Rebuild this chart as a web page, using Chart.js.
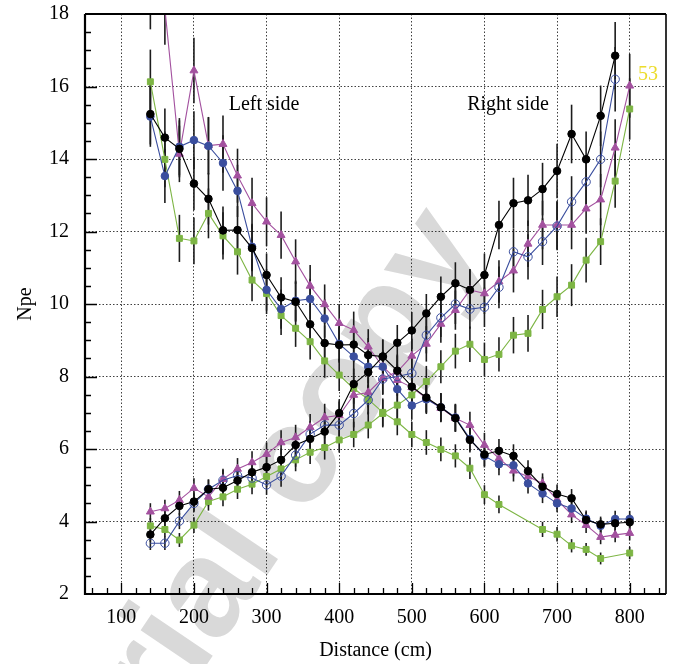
<!DOCTYPE html>
<html>
<head>
<meta charset="utf-8">
<script src="https://cdn.jsdelivr.net/npm/chart.js@4.4.1/dist/chart.umd.min.js"></script>
<style>
  html, body { margin: 0; padding: 0; background: #fff; }
</style>
</head>
<body>
<canvas id="npeChart" width="675" height="664"></canvas>
<script>
// distance along the bar (cm), one entry per measurement
const distance = [140, 160, 180, 200, 220, 240, 260, 280, 300, 320, 340, 360, 380, 400, 420, 440, 460,
                  480, 500, 520, 540, 560, 580, 600, 620, 640, 660, 680, 700, 720, 740, 760, 780, 800];

// left side readout (falls with distance)
const blackLeft  = [15.24, 14.59, 14.28, 13.32, 12.90, 12.03, 12.04, 11.54, 10.80, 10.18, 10.06, 9.44, 8.92, 8.87, 8.88, 8.59, 8.55,
                    8.16, 7.72, 7.42, 7.15, 6.85, 6.25, 5.85, 5.95, 5.81, 5.39, 4.96, 4.76, 4.64, 4.04, 3.92, 3.95, 3.98];
const blueLeft   = [15.17, 13.53, 14.34, 14.52, 14.36, 13.89, 13.12, 11.58, 10.39, 9.86, 10.09, 10.14, 9.60, 8.90, 8.55, 8.27, 8.27,
                    7.65, 7.20, 7.37, 7.15, 6.87, 6.28, 5.81, 5.58, 5.55, 5.05, 4.77, 4.50, 4.36, 4.08, 3.88, 4.07, 4.07];
const purpleLeft = [18.60, 18.15, 14.14, 16.44, 14.37, 14.41, 13.54, 12.78, 12.27, 11.90, 11.17, 10.50, 9.99, 9.47, 9.28, 8.82, 8.27,
                    7.90, 7.70, 7.40, 7.13, 6.85, 6.66, 6.11, 5.74, 5.40, 5.24, 5.05, 4.60, 4.19, 3.90, 3.57, 3.63, 3.68];
const greenLeft  = [16.13, 13.99, 11.81, 11.74, 12.50, 11.88, 11.44, 10.66, 10.29, 9.68, 9.33, 8.96, 8.43, 8.04, 7.67, 7.37, 7.01,
                    6.75, 6.40, 6.18, 5.99, 5.81, 5.47, 4.74, 4.47, null, null, 3.78, 3.65, 3.33, 3.23, 2.98, null, 3.13];

// right side readout (rises with distance)
const blackRight  = [3.64, 4.09, 4.43, 4.55, 4.89, 4.93, 5.13, 5.36, 5.50, 5.70, 6.11, 6.28, 6.48, 6.99, 7.79, 8.12, 8.55,
                     8.93, 9.27, 9.74, 10.20, 10.57, 10.39, 10.80, 12.18, 12.78, 12.86, 13.17, 13.67, 14.69, 13.99, 15.19, 16.85, null];
const blueRight   = [3.40, 3.40, 4.01, 4.50, 4.89, 5.14, 5.27, 5.20, 5.01, 5.25, 5.83, 6.41, 6.66, 6.66, 6.98, 7.35, 7.93,
                     8.00, 8.09, 9.14, 9.62, 10.00, 9.86, 9.91, 10.46, 11.44, 11.30, 11.72, 12.15, 12.82, 13.37, 13.99, 16.20, null];
const purpleRight = [4.27, 4.36, 4.59, 4.92, 4.68, 5.17, 5.45, 5.63, 5.86, 6.18, 6.32, 6.60, 6.87, 6.93, 7.49, 7.56, 7.95,
                     8.13, 8.57, 8.90, 9.45, 9.83, 10.39, 10.29, 10.62, 10.92, 11.66, 12.18, 12.18, 12.18, 12.63, 12.88, 14.31, 16.02];
const greenRight  = [3.88, 3.78, 3.49, 3.90, 4.55, 4.68, 4.89, 5.03, 5.24, 5.45, 5.70, 5.91, 6.04, 6.25, 6.40, 6.66, 6.98,
                     7.21, 7.49, 7.86, 8.27, 8.70, 8.89, 8.47, 8.61, 9.14, 9.19, 9.85, 10.20, 10.52, 11.21, 11.72, 13.39, 15.38];

// axis ticks
const xTicks = [100, 200, 300, 400, 500, 600, 700, 800];
const yTicks = [2, 4, 6, 8, 10, 12, 14, 16, 18];

const REL_ERR = 0.055; // error bar half length, relative to Npe
const SERIF = '"Liberation Serif", "DejaVu Serif", serif';

const BLACK = '#000000';
const BLUE = '#3a4e9e';
const PURPLE = '#a3519f';
const GREEN = '#7db544';

function pts(values) {
    return distance.map((d, i) => ({ x: d, y: values[i] }));
}

function series(values, color, style, opts = {}) {
    return Object.assign({
        data: pts(values),
        borderColor: color,
        backgroundColor: color,
        borderWidth: 1.1,
        pointStyle: style,
        pointRadius: 3.8,
        pointBorderWidth: 1,
        pointBackgroundColor: color,
        pointBorderColor: color,
        spanGaps: true,
        clip: 0,
        tension: 0,
    }, opts);
}

// vertical error bars under the markers
const errorBars = {
    id: 'errorBars',
    beforeDatasetsDraw: (chart) => {
        const { ctx, chartArea, scales } = chart;
        ctx.save();
        ctx.beginPath();
        ctx.rect(chartArea.left, chartArea.top, chartArea.width, chartArea.height);
        ctx.clip();
        ctx.strokeStyle = '#1c1c1c';
        ctx.lineWidth = 1.6;
        chart.data.datasets.forEach((ds) => {
            ds.data.forEach((p) => {
                if (p.y === null) return;
                const e = p.y * REL_ERR;
                const px = scales.x.getPixelForValue(p.x);
                ctx.beginPath();
                ctx.moveTo(px, scales.y.getPixelForValue(p.y - e));
                ctx.lineTo(px, scales.y.getPixelForValue(p.y + e));
                ctx.stroke();
            });
        });
        ctx.restore();
    },
};

// grey watermark, drawn first so everything sits on top of it
const watermark = {
    id: 'watermark',
    beforeDraw: (chart) => {
        const { ctx } = chart;
        ctx.save();
        ctx.translate(456, 226);
        ctx.rotate(-56 * Math.PI / 180);
        ctx.font = 'bold 140px "Liberation Sans", Arial, sans-serif';
        ctx.fillStyle = '#d9d9d9';
        ctx.textAlign = 'right';
        ctx.textBaseline = 'middle';
        ctx.fillText('Trial copy', 0, 0);
        ctx.restore();
    },
};

// inward ticks, frame and free text
const frame = {
    id: 'frame',
    afterDraw: (chart) => {
        const { ctx, chartArea, scales } = chart;
        const { left, right, top, bottom } = chartArea;
        ctx.save();
        ctx.strokeStyle = '#000';
        ctx.lineWidth = 1.3;
        ctx.beginPath();
        for (let v = 2.5; v < 18; v += 0.5) {
            const py = Math.round(scales.y.getPixelForValue(v)) + 0.5;
            const len = (v % 2 === 0) ? 12 : 6;
            ctx.moveTo(left, py);
            ctx.lineTo(left + len, py);
        }
        for (let v = 60; v < 850; v += 20) {
            const px = Math.round(scales.x.getPixelForValue(v)) + 0.5;
            const len = (v % 100 === 0) ? 11 : 6;
            ctx.moveTo(px, bottom);
            ctx.lineTo(px, bottom - len);
        }
        ctx.stroke();

        ctx.lineWidth = 2.2;
        ctx.beginPath();
        ctx.moveTo(left, top);
        ctx.lineTo(right, top);
        ctx.moveTo(left, top);
        ctx.lineTo(left, bottom);
        ctx.lineTo(right, bottom);
        ctx.stroke();
        ctx.lineWidth = 1.6;
        ctx.beginPath();
        ctx.moveTo(right, top);
        ctx.lineTo(right, bottom);
        ctx.stroke();

        ctx.fillStyle = '#000';
        ctx.font = '20px ' + SERIF;
        ctx.textAlign = 'center';
        ctx.textBaseline = 'alphabetic';
        ctx.fillText('Left side', 264, 110);
        ctx.fillText('Right side', 508, 110);
        ctx.fillText('Distance (cm)', (left + right) / 2, 656);

        ctx.fillStyle = '#ecdc2c';
        ctx.fillText('53', 648, 80);

        ctx.fillStyle = '#000';
        ctx.translate(31, (top + bottom) / 2);
        ctx.rotate(-Math.PI / 2);
        ctx.fillText('Npe', 0, 0);
        ctx.restore();
    },
};

const config = {
    type: 'line',
    data: {
        datasets: [
            series(blackLeft, BLACK, 'circle'),
            series(blackRight, BLACK, 'circle'),
            series(blueLeft, BLUE, 'circle'),
            series(blueRight, BLUE, 'circle', { pointBackgroundColor: 'rgba(255,255,255,0)', pointRadius: 4.2 }),
            series(purpleLeft, PURPLE, 'triangle', { pointRadius: 4.6 }),
            series(purpleRight, PURPLE, 'triangle', { pointRadius: 4.6 }),
            series(greenLeft, GREEN, 'rect', { pointRadius: 4.2 }),
            series(greenRight, GREEN, 'rect', { pointRadius: 4.2 }),
        ],
    },
    options: {
        responsive: false,
        animation: false,
        devicePixelRatio: 1,
        layout: { padding: { top: 14, right: 9, left: 0, bottom: 0 } },
        plugins: {
            legend: { display: false },
            tooltip: { enabled: false },
        },
        scales: {
            x: {
                type: 'linear',
                min: 50,
                max: 850,
                afterBuildTicks: (scale) => { scale.ticks = xTicks.map((v) => ({ value: v })); },
                afterFit: (scale) => {
                    scale.height = 70;
                    scale.paddingLeft = 0;
                    scale.paddingRight = 0;
                },
                ticks: { color: '#000', font: { family: SERIF, size: 20 }, padding: 12, maxRotation: 0 },
                grid: { color: 'rgba(0,0,0,0.75)', lineWidth: 1, drawTicks: false },
                border: { display: false, dash: [1.5, 2] },
            },
            y: {
                type: 'linear',
                min: 2,
                max: 18,
                afterBuildTicks: (scale) => { scale.ticks = yTicks.map((v) => ({ value: v })); },
                afterFit: (scale) => {
                    scale.width = 85;
                    scale.paddingTop = 0;
                    scale.paddingBottom = 0;
                },
                ticks: { color: '#000', font: { family: SERIF, size: 20 }, padding: 16 },
                grid: { color: 'rgba(0,0,0,0.75)', lineWidth: 1, drawTicks: false },
                border: { display: false, dash: [1.5, 2] },
            },
        },
    },
    plugins: [watermark, errorBars, frame],
};

const chart = new Chart(document.getElementById('npeChart'), config);
</script>
</body>
</html>
